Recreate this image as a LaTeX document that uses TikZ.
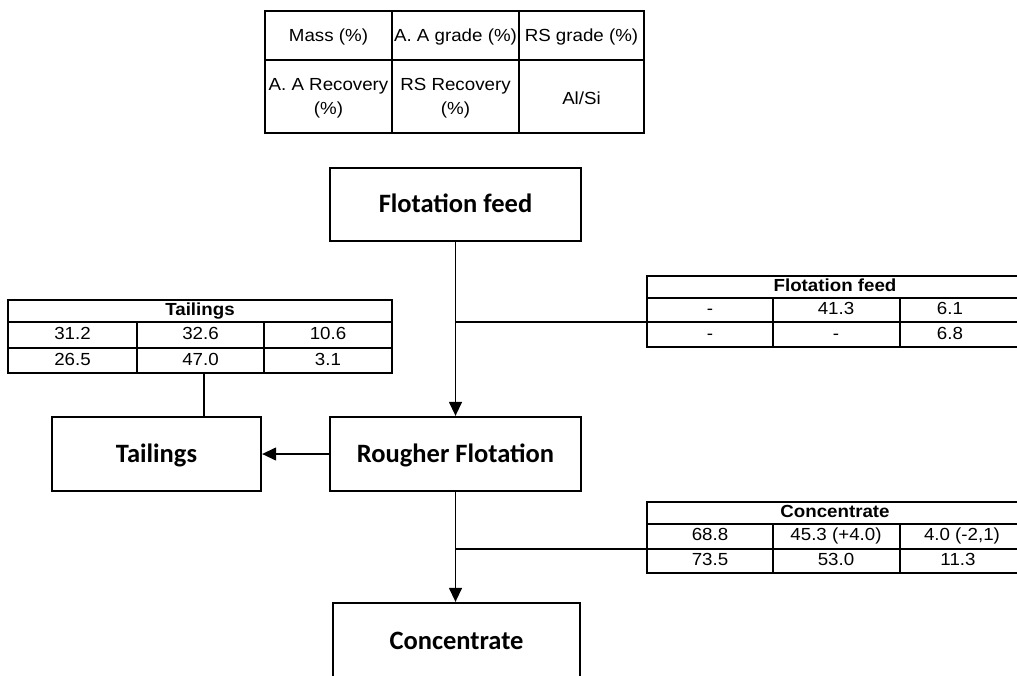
\documentclass[tikz,border=0pt]{standalone}
\usepackage{fontspec}
\setmainfont{Liberation Sans}
\newfontfamily\boxfont{Carlito}
\newfontfamily\tabfont[FakeStretch=1.07]{Liberation Sans}
\usetikzlibrary{arrows.meta}
\begin{document}
\begin{tikzpicture}[x=1pt,y=-1pt,
 procbox/.style={draw, line width=2.3pt, inner sep=0pt, font=\boxfont\bfseries\fontsize{26.5}{30}\selectfont, text height=20pt, text depth=4pt},
 tline/.style={line width=1.2pt},
 conn/.style={line width=1.3pt},
 arr/.style={conn, -{Triangle[length=14pt,width=13pt]}},
 tt/.style={font=\tabfont\fontsize{17.5}{24}\selectfont, inner sep=0pt, align=center},
 dt/.style={font=\tabfont\fontsize{17.5}{18}\selectfont, inner sep=0pt, text height=12pt, text depth=3pt},
 dh/.style={font=\tabfont\bfseries\fontsize{17.5}{18}\selectfont, inner sep=0pt, text height=12pt, text depth=3pt},
 tbl/.style={draw, line width=1.2pt, inner sep=0pt}]
\useasboundingbox (0,0) rectangle (1017,675);
\clip (0,0) rectangle (1017,675);
\fill[white] (0,0) rectangle (1017,675);

% legend table
\node[tbl, minimum width=379pt, minimum height=122pt] (legend) at (454.5,72) {};
\draw[tline] (265,60) -- (644,60);
\draw[tline] (392,11) -- (392,133);
\draw[tline] (519,11) -- (519,133);
\node[tt] (l1) at (328.5,37) {Mass (\%)};
\node[tt] (l2) at (455.5,37) {A. A grade (\%)};
\node[tt] (l3) at (581.5,37) {RS grade (\%)};
\node[tt] (l4) at (328.5,98) {A. A Recovery\\(\%)};
\node[tt] (l5) at (455.5,98) {RS Recovery\\(\%)};
\node[tt] (l6) at (581.5,98) {Al/Si};

% process boxes
\node[procbox, minimum width=251pt, minimum height=73pt] (feed) at (455.5,204.5) {Flotation feed};
\node[procbox, minimum width=251pt, minimum height=74pt] (rough) at (455.5,454) {Rougher Flotation};
\node[procbox, minimum width=209pt, minimum height=74pt] (tail) at (156.5,454) {Tailings};
\node[procbox, minimum width=247pt, minimum height=76pt] (conc) at (456.5,641) {Concentrate};

\draw[arr] (feed.south) -- (rough.north);
\draw[arr] (rough.west) -- (tail.east);
\draw[arr] (rough.south) -- (rough.south |- conc.north);

% tailings table
\node[tbl, minimum width=384pt, minimum height=73pt] (ttab) at (200,336.5) {};
\draw[tline] (8,322) -- (392,322);
\draw[tline] (8,348) -- (392,348);
\draw[tline] (137,322) -- (137,373);
\draw[tline] (264,322) -- (264,373);
\node[dh] (th) at (200,311) {Tailings};
\node[dt] (t11) at (72.5,335) {31.2};
\node[dt] (t12) at (200.5,335) {32.6};
\node[dt] (t13) at (328,335) {10.6};
\node[dt] (t21) at (72.5,361) {26.5};
\node[dt] (t22) at (200.5,361) {47.0};
\node[dt] (t23) at (328,361) {3.1};
\draw[conn] ([xshift=4pt]ttab.south) -- ([xshift=4pt]ttab.south |- tail.north);

% feed table
\node[tbl, minimum width=376pt, minimum height=71pt] (ftab) at (835,311.5) {};
\draw[tline] (647,298) -- (1023,298);
\draw[tline] (647,322) -- (1023,322);
\draw[tline] (773,298) -- (773,347);
\draw[tline] (900,298) -- (900,347);
\node[dh] (fh) at (835,287) {Flotation feed};
\node[dt] (f11) at (710,310) {-};
\node[dt] (f12) at (836,310) {41.3};
\node[dt] (f13) at (950,310) {6.1};
\node[dt] (f21) at (710,335) {-};
\node[dt] (f22) at (836,335) {-};
\node[dt] (f23) at (950,335) {6.8};
\coordinate (fj) at (456,322);
\draw[conn] (fj) -- (fj -| ftab.west);

% concentrate table
\node[tbl, minimum width=376pt, minimum height=71pt] (ctab) at (835,537.5) {};
\draw[tline] (647,524) -- (1023,524);
\draw[tline] (647,549) -- (1023,549);
\draw[tline] (773,524) -- (773,573);
\draw[tline] (900,524) -- (900,573);
\node[dh] (ch) at (835,513) {Concentrate};
\node[dt] (c11) at (710,536) {68.8};
\node[dt] (c12) at (836,536) {45.3 (+4.0)};
\node[dt] (c13) at (962,536) {4.0 (-2,1)};
\node[dt] (c21) at (710,561) {73.5};
\node[dt] (c22) at (836,561) {53.0};
\node[dt] (c23) at (958,561) {11.3};
\coordinate (cj) at (456,549);
\draw[conn] (cj) -- (cj -| ctab.west);
\end{tikzpicture}
\end{document}
